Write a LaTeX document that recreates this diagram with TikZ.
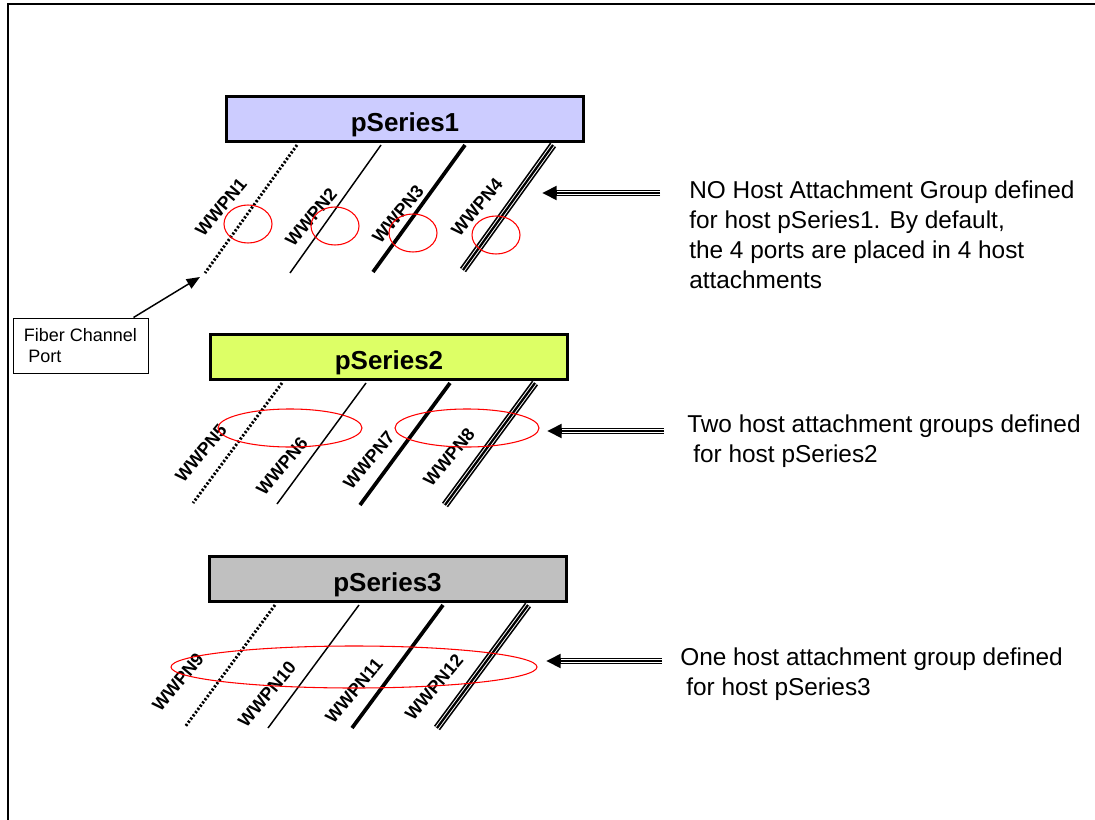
\documentclass[tikz,border=0pt]{standalone}
\usepackage{fontspec}
\setmainfont{Liberation Sans}
\usetikzlibrary{arrows.meta,calc}
\definecolor{pone}{HTML}{CCCCFF}
\definecolor{ptwo}{HTML}{DDFF66}
\definecolor{pthree}{HTML}{C0C0C0}
\definecolor{ringred}{HTML}{FF0000}
\begin{document}
\begin{tikzpicture}[x=0.75pt,y=-0.75pt,
 hostbox/.style={draw=black, line width=2.25pt, minimum width=267.75pt, minimum height=33.75pt, inner sep=0pt, text height=19pt, text depth=0pt, font=\fontsize{19.5}{22}\selectfont\bfseries},
 portlabel/.style={rotate=50, inner sep=0pt, font=\fontsize{13.5}{15}\selectfont\bfseries},
 portdot/.style={line width=2.2pt, dash pattern=on 1.6pt off 1.4pt},
 portthin/.style={line width=1.1pt},
 portthick/.style={line width=2.8pt},
 porttriple/.style={line width=5.6pt, postaction={draw, white, line width=3.1pt}, postaction={draw, black, line width=1.7pt}},
 ring/.style={draw=ringred, line width=0.8pt},
 bigarrow/.style={line width=4.5pt, -{Triangle[length=11pt,width=10pt]}, postaction={draw, white, line width=2.3pt, -, shorten >=11pt}, postaction={draw, black, line width=1.2pt, -, shorten >=11pt}},
 note/.style={align=left, anchor=base west, inner sep=0pt, font=\fontsize{18.3}{22.5}\selectfont},
 fcarrow/.style={line width=1.1pt, -{Triangle[length=10pt,width=8pt]}},
]
\useasboundingbox (0,0) rectangle (1095,820);
% frame
\draw[line width=1.1pt] (8,820) -- (8,4) -- (1095,4);

% ---------- pSeries1 ----------
\coordinate (a1) at (297,145); \coordinate (b1) at (205,273);
\coordinate (a2) at (381,145); \coordinate (b2) at (290,273);
\coordinate (a3) at (465,145); \coordinate (b3) at (373,272);
\coordinate (a4) at (553,145); \coordinate (b4) at (463,270);
\draw[portdot] (a1) -- (b1);
\draw[portthin] (a2) -- (b2);
\draw[portthick] (a3) -- (b3);
\draw[porttriple] (a4) -- (b4);
\node[hostbox, fill=pone] (h1) at (405,119) {pSeries1};
\node[portlabel] (l1) at (221,207) {WWPN1};
\node[portlabel] (l2) at (311,217) {WWPN2};
\node[portlabel] (l3) at (398,214) {WWPN3};
\node[portlabel] (l4) at (477,207) {WWPN4};
\draw[ring] (248,224) ellipse [x radius=24, y radius=19];
\draw[ring] (335,226) ellipse [x radius=24, y radius=19];
\draw[ring] (413,233) ellipse [x radius=24, y radius=19];
\draw[ring] (496,235) ellipse [x radius=24, y radius=19];

% ---------- pSeries2 ----------
\coordinate (c1) at (282,383); \coordinate (d1) at (193,503);
\coordinate (c2) at (366,383); \coordinate (d2) at (277,504);
\coordinate (c3) at (450,383); \coordinate (d3) at (360,505);
\coordinate (c4) at (535,383); \coordinate (d4) at (445,505);
\draw[portdot] (c1) -- (d1);
\draw[portthin] (c2) -- (d2);
\draw[portthick] (c3) -- (d3);
\draw[porttriple] (c4) -- (d4);
\node[hostbox, fill=ptwo] (h2) at (389,357) {pSeries2};
\node[portlabel] (l5) at (201,453) {WWPN5};
\node[portlabel] (l6) at (282,466) {WWPN6};
\node[portlabel] (l7) at (369,460) {WWPN7};
\node[portlabel] (l8) at (449,457) {WWPN8};
\draw[ring] (290,428) ellipse [x radius=72, y radius=19];
\draw[ring] (467,428) ellipse [x radius=72, y radius=19];

% ---------- pSeries3 ----------
\coordinate (e1) at (275,605); \coordinate (f1) at (185,727);
\coordinate (e2) at (359,605); \coordinate (f2) at (268,728);
\coordinate (e3) at (443,605); \coordinate (f3) at (352,728);
\coordinate (e4) at (528,605); \coordinate (f4) at (437,728);
\draw[portdot] (e1) -- (f1);
\draw[portthin] (e2) -- (f2);
\draw[portthick] (e3) -- (f3);
\draw[porttriple] (e4) -- (f4);
\node[hostbox, fill=pthree] (h3) at (387.5,579) {pSeries3};
\node[portlabel] (l9) at (178,682) {WWPN9};
\node[portlabel] (l10) at (267,694) {WWPN10};
\node[portlabel] (l11) at (354,691) {WWPN11};
\node[portlabel] (l12) at (434,687) {WWPN12};
\draw[ring] (354,667) ellipse [x radius=183, y radius=21];

% ---------- notes and arrows ----------
\node[note] (n1) at (689,288) {NO Host Attachment Group defined\\for host pSeries1. By default,\\the 4 ports are placed in 4 host\\attachments};
\node[note] (n2) at (687,462) {Two host attachment groups defined\\\hspace*{0.25em}for host pSeries2};
\node[note] (n3) at (680,695) {One host attachment group defined\\\hspace*{0.25em}for host pSeries3};
\coordinate (t1) at (660,193); \coordinate (s1) at (542,193);
\coordinate (t2) at (664,431); \coordinate (s2) at (547,431);
\coordinate (t3) at (662,661); \coordinate (s3) at (546,661);
\draw[bigarrow] (t1) -- (s1);
\draw[bigarrow] (t2) -- (s2);
\draw[bigarrow] (t3) -- (s3);

% ---------- fiber channel port ----------
\node[draw, line width=0.75pt, minimum width=101.25pt, minimum height=41.25pt, align=left, inner xsep=8pt, font=\fontsize{13.5}{16}\selectfont] (fcp) at (80.5,345.5) {Fiber Channel\\\hspace*{0.25em}Port};
\coordinate (fctip) at (200,277);
\draw[fcarrow] ([shift={(-15,0)}]fcp.north east) -- (fctip);
\end{tikzpicture}
\end{document}
